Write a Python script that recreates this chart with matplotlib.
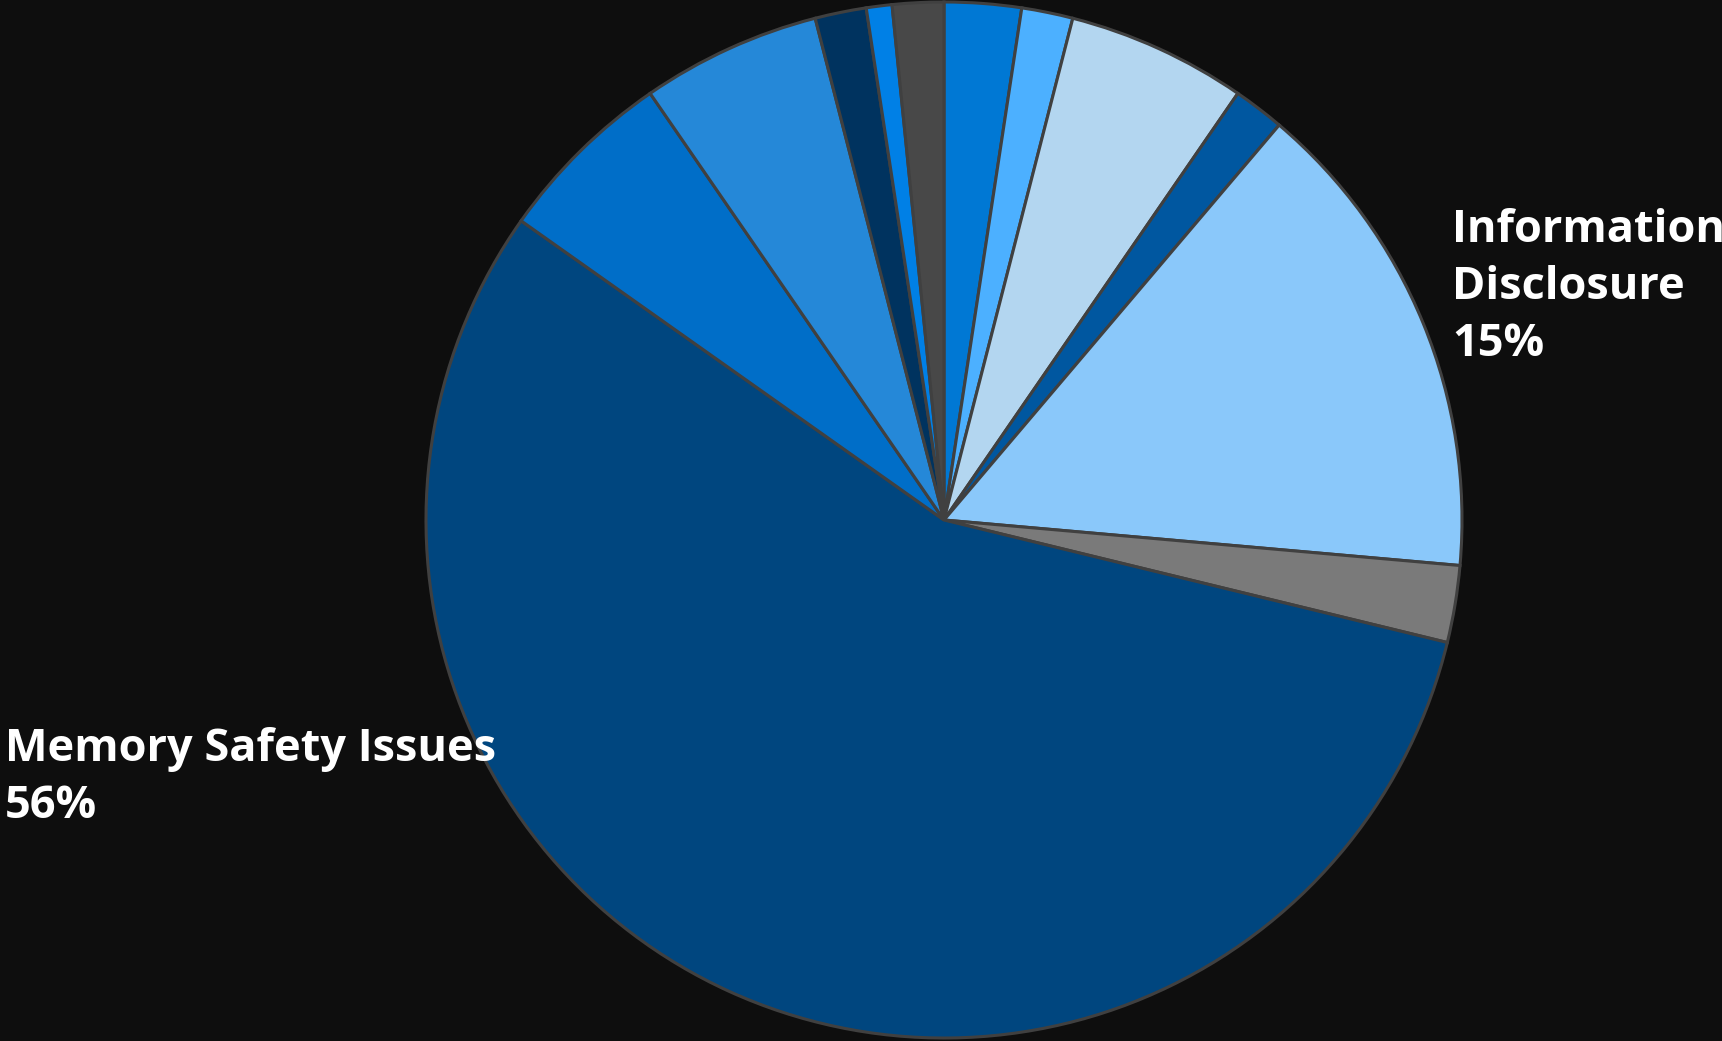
import matplotlib.pyplot as plt

# slice counts, clockwise from 12 o'clock
values = [3, 2, 7, 2, 19, 3, 70, 7, 7, 2, 1, 2]
colors = ["#0078d4", "#4cb0ff", "#b3d6f0", "#0057a0", "#8ac8fa", "#7a7a7a",
          "#00467f", "#006ec8", "#2588d8", "#00335f", "#0080e6", "#484848"]
labels = ["", "", "", "", "Information\nDisclosure", "",
          "Memory Safety Issues", "", "", "", "", ""]

W, H = 1722, 1041
bg = "#0e0e0e"

fig = plt.figure(figsize=(W / 100, H / 100), dpi=100, facecolor=bg)
ax = fig.add_axes([0, 0, 1, 1])
ax.set_facecolor(bg)

cx, cy, r = 944, H - 520, 518
ax.pie(values, colors=colors, startangle=90, counterclock=False,
       center=(cx, cy), radius=r, frame=True,
       wedgeprops=dict(edgecolor="#404040", linewidth=2.2))
ax.set_xlim(0, W)
ax.set_ylim(0, H)
ax.axis("off")

total = sum(values)
font = dict(color="white", fontsize=32.5, fontweight="bold",
            family=["Open Sans", "DejaVu Sans"], linespacing=1.36)

i = 4
ax.text(1452, H - 208, f"{labels[i]}\n{values[i] / total:.0%}",
        ha="left", va="top", **font)
i = 6
ax.text(5, H - 727, f"{labels[i]}\n{values[i] / total:.0%}",
        ha="left", va="top", **font)

fig.savefig("out.png", dpi=100, facecolor=bg)
